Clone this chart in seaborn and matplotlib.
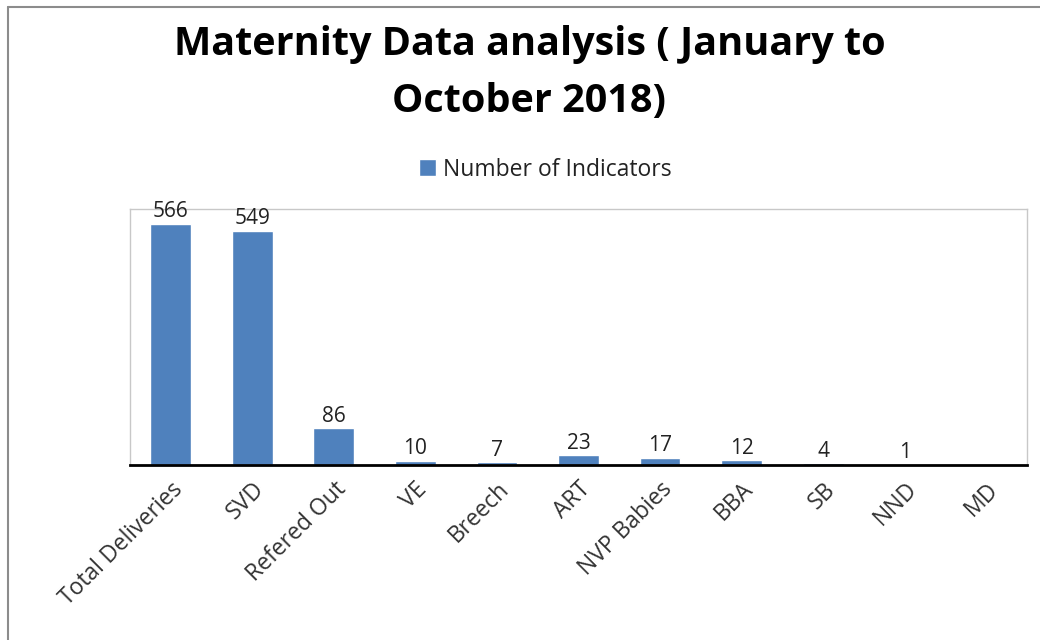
import matplotlib
matplotlib.use("Agg")
import matplotlib.pyplot as plt
import seaborn as sns
import pandas as pd
from matplotlib.lines import Line2D

categories = ["Total Deliveries", "SVD", "Refered Out", "VE", "Breech", "ART",
              "NVP Babies", "BBA", "SB", "NND", "MD"]
values = [566, 549, 86, 10, 7, 23, 17, 12, 4, 1, 0]
series_name = "Number of Indicators"
title = "Maternity Data analysis ( January to\nOctober 2018)"

sns.set_theme(style="white")
plt.rcParams['font.family'] = ['Open Sans', 'DejaVu Sans']

df = pd.DataFrame({"Indicator": categories, "Value": values, "Series": series_name})

fig = plt.figure(figsize=(10.4, 6.4), dpi=100)
ax = fig.add_axes([0.125, 0.2734, 0.8625, 0.40])
sns.barplot(data=df, x="Indicator", y="Value", hue="Series", palette=["#4F81BD"],
            saturation=1, width=0.5, ax=ax, legend=True)

ax.set_ylim(0, 600)
ax.set_xlim(-0.5, len(categories) - 0.5)
ax.set_yticks([])
ax.set_xlabel("")
ax.set_ylabel("")
for s in ["left", "right", "top"]:
    ax.spines[s].set_color("#C8C8C8")
    ax.spines[s].set_linewidth(1.0)
ax.spines["bottom"].set_color("black")
ax.spines["bottom"].set_linewidth(2.0)
ax.tick_params(axis="x", length=0, pad=9)
plt.setp(ax.get_xticklabels(), rotation=45, ha="right", rotation_mode="anchor",
         fontsize=16.5, color="#333333")

for cont in ax.containers:
    labels = [f"{v:g}" if v > 0 else "" for v in cont.datavalues]
    ax.bar_label(cont, labels=labels, padding=1, fontsize=15, color="#222222")

leg = ax.legend(loc="center", bbox_to_anchor=(0.463, 1.153), frameon=False,
                fontsize=16.5, handlelength=0.75, handleheight=0.75, handletextpad=0.3,
                borderaxespad=0)
for t in leg.get_texts():
    t.set_color("#222222")

fig.text(0.509, 0.961, title, ha="center", va="top", fontsize=28.5, fontweight="bold",
         color="black", linespacing=1.6)

# outer chart border
fig.add_artist(Line2D([0.0077, 0.0077], [0, 0.989], transform=fig.transFigure,
                      color="#8C8C8C", linewidth=1.5))
fig.add_artist(Line2D([0.0077, 1.0], [0.989, 0.989], transform=fig.transFigure,
                      color="#8C8C8C", linewidth=1.5))

fig.savefig("out.png", dpi=100)
